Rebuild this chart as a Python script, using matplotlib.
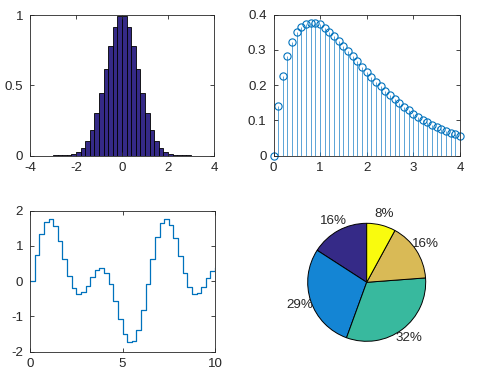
import numpy as np
import matplotlib.pyplot as plt

plt.rcParams['font.family'] = ['Liberation Sans', 'DejaVu Sans']
plt.rcParams['font.size'] = 9.6
plt.rcParams['axes.unicode_minus'] = False

# histogram (bin centres and normalised heights)
hist_centers = [-2.9, -2.7, -2.5, -2.3, -2.1, -1.9, -1.7, -1.5, -1.3, -1.1, -0.9, -0.7, -0.5, -0.3, -0.1,
                0.1, 0.3, 0.5, 0.7, 0.9, 1.1, 1.3, 1.5, 1.7, 1.9, 2.1, 2.3, 2.5, 2.7, 2.9]
hist_heights = [0.0003, 0.001, 0.002, 0.005, 0.013, 0.027, 0.056, 0.105, 0.185, 0.30, 0.445, 0.615, 0.78, 0.915, 0.99,
                0.99, 0.915, 0.78, 0.615, 0.445, 0.30, 0.185, 0.105, 0.056, 0.027, 0.013, 0.005, 0.002, 0.001, 0.0003]

# stem plot
stem_x = [0.0, 0.1, 0.2, 0.3, 0.4, 0.5, 0.6, 0.7, 0.8, 0.9, 1.0, 1.1, 1.2, 1.3, 1.4, 1.5, 1.6, 1.7, 1.8, 1.9, 2.0,
          2.1, 2.2, 2.3, 2.4, 2.5, 2.6, 2.7, 2.8, 2.9, 3.0, 3.1, 3.2, 3.3, 3.4, 3.5, 3.6, 3.7, 3.8, 3.9, 4.0]
stem_y = [0.0, 0.141, 0.226, 0.282, 0.322, 0.350, 0.365, 0.372, 0.376, 0.375, 0.372, 0.363, 0.350, 0.339, 0.324,
          0.310, 0.296, 0.282, 0.267, 0.251, 0.238, 0.223, 0.209, 0.196, 0.183, 0.172, 0.160, 0.149, 0.137, 0.128,
          0.118, 0.110, 0.102, 0.095, 0.087, 0.082, 0.076, 0.070, 0.064, 0.060, 0.054]

# stairs
stair_x = [0, 0.25, 0.5, 0.75, 1, 1.25, 1.5, 1.75, 2, 2.25, 2.5, 2.75, 3, 3.25, 3.5, 3.75, 4, 4.25, 4.5, 4.75, 5,
           5.25, 5.5, 5.75, 6, 6.25, 6.5, 6.75, 7, 7.25, 7.5, 7.75, 8, 8.25, 8.5, 8.75, 9, 9.25, 9.5, 9.75, 10]
stair_y = [0, 0.726, 1.321, 1.679, 1.751, 1.547, 1.138, 0.633, 0.152, -0.200, -0.361, -0.324, -0.138, 0.107, 0.306,
           0.366, 0.232, -0.097, -0.566, -1.071, -1.503, -1.739, -1.706, -1.381, -0.816, -0.099, 0.635, 1.255,
           1.648, 1.755, 1.588, 1.206, 0.701, 0.215, -0.163, -0.360, -0.339, -0.178, 0.075, 0.278, 0.369]

# pie
pie_values = [1, 1.8, 2, 1, 0.5]
pie_labels = ['16%', '29%', '32%', '16%', '8%']
pie_colors = ['#352A87', '#1485D4', '#38B99E', '#D9BA56', '#F9FB0E']

W, H = 496, 388
fig = plt.figure(figsize=(W / 100, H / 100), dpi=100)
ax_col = '#262626'


def px_axes(l, t, r, b):
    return fig.add_axes([l / W, 1 - b / H, (r - l) / W, (b - t) / H])


def style(ax):
    for s in ax.spines.values():
        s.set_color(ax_col)
        s.set_linewidth(0.6)
    ax.tick_params(direction='in', length=3, width=0.6, colors=ax_col, labelcolor=ax_col,
                   top=True, right=True)
    ax.tick_params(axis='x', pad=5)
    ax.tick_params(axis='y', pad=5)


ax1 = px_axes(30, 15, 214, 155.5)
ax1.bar(hist_centers, hist_heights, width=0.2, color='#352A87', edgecolor='black', linewidth=0.6)
ax1.set_xlim(-4, 4)
ax1.set_ylim(0, 1)
ax1.set_xticks([-4, -2, 0, 2, 4])
ax1.set_yticks([0, 0.5, 1])
ax1.set_yticklabels(['0', '0.5', '1'])
style(ax1)

ax2 = px_axes(273.5, 14.5, 460, 155.5)
ml, sl, bl = ax2.stem(stem_x, stem_y, basefmt=' ')
plt.setp(sl, color='#1A80C6', linewidth=0.5)
plt.setp(ml, color='#0072BD', markerfacecolor='none', markersize=5.2, markeredgewidth=0.8, clip_on=False)
ax2.set_xlim(0, 4)
ax2.set_ylim(0, 0.4)
ax2.set_xticks([0, 1, 2, 3, 4])
ax2.set_yticks([0, 0.1, 0.2, 0.3, 0.4])
ax2.set_yticklabels(['0', '0.1', '0.2', '0.3', '0.4'])
style(ax2)

ax3 = px_axes(30, 210.5, 215, 351.5)
ax3.plot(stair_x, stair_y, drawstyle='steps-post', color='#0072BD', linewidth=0.9)
ax3.set_xlim(0, 10)
ax3.set_ylim(-2, 2)
ax3.set_xticks([0, 5, 10])
ax3.set_yticks([-2, -1, 0, 1, 2])
style(ax3)

ax4 = px_axes(366.7 - 78, 282.3 - 78, 366.7 + 78, 282.3 + 78)
wedges, texts = ax4.pie(pie_values, labels=pie_labels, colors=pie_colors, startangle=90, counterclock=True,
                        labeldistance=1.19, wedgeprops=dict(edgecolor='black', linewidth=0.7),
                        textprops=dict(fontsize=9.6, color='#262626'))
for t in texts:
    t.set_ha('center')
    t.set_va('center')
ax4.set_xlim(-78 / 59, 78 / 59)
ax4.set_ylim(-78 / 59, 78 / 59)
ax4.set_aspect('equal')
ax4.axis('off')

fig.savefig('out.png', dpi=100)
